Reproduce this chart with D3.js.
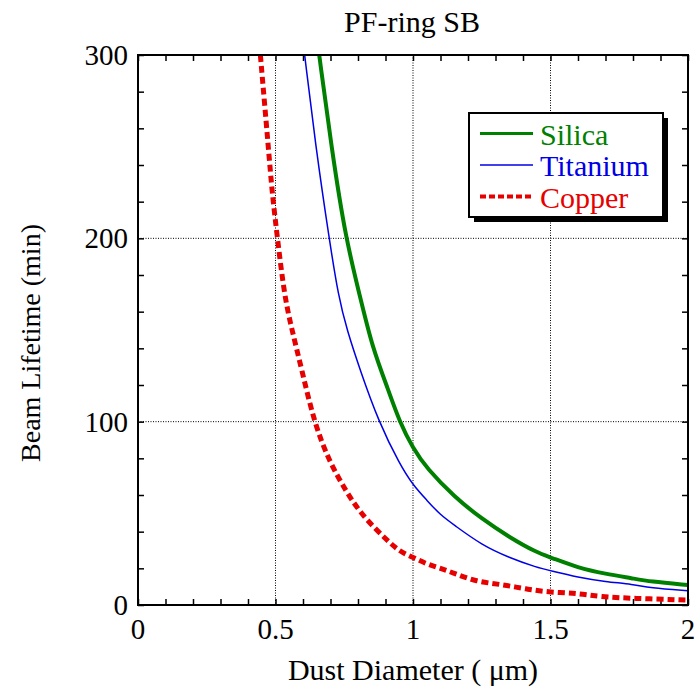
<!DOCTYPE html>
<html>
<head>
<meta charset="utf-8">
<script src="https://cdn.jsdelivr.net/npm/d3@7"></script>
<style>
  body { margin: 0; background: #fff; }
  svg text { font-family: "Liberation Serif", "Times New Roman", serif; }
</style>
</head>
<body>
<div id="vis"></div>
<script>
// Beam lifetime (min) vs dust diameter (um)
const silicaX = [0.659, 0.705, 0.755, 0.808, 0.851, 0.911, 0.951, 1.0, 1.05, 1.15, 1.25, 1.35, 1.45, 1.5, 1.6, 1.7, 1.8, 1.86, 2.0];
const silicaY = [300, 248, 200, 168, 141, 117, 100, 85.4, 74.5, 59, 47, 37, 28.6, 26, 20.3, 17, 14.5, 12.8, 10.9];

const titaniumX = [0.606, 0.648, 0.695, 0.729, 0.760, 0.808, 0.875, 0.953, 1.0, 1.05, 1.1, 1.15, 1.25, 1.35, 1.45, 1.5, 1.6, 1.7, 1.8, 1.86, 2.0];
const titaniumY = [300, 248, 200, 168, 150, 128, 100, 76.3, 65.4, 57.2, 49, 43.6, 32.7, 25.8, 20.5, 18.7, 15.1, 12.7, 11.3, 9.4, 7.8];

const copperX = [0.445, 0.475, 0.487, 0.507, 0.533, 0.560, 0.596, 0.640, 0.693, 0.760, 0.820, 0.905, 0.953, 1.0, 1.05, 1.1, 1.15, 1.23, 1.32, 1.41, 1.5, 1.6, 1.68, 1.8, 2.0];
const copperY = [300, 248, 226, 200, 168, 150, 128, 100, 79, 61, 48, 35.4, 29, 26, 22.3, 20, 17.3, 12.7, 11.3, 8.7, 6.9, 6.4, 4.5, 3.6, 2.7];

const xTicks = [0, 0.5, 1, 1.5, 2];
const xTickLabels = ["0", "0.5", "1", "1.5", "2"];
const yTicks = [0, 100, 200, 300];

const series = [
  { name: "Silica", xs: silicaX, ys: silicaY, color: "#008000", width: 4, dash: null },
  { name: "Titanium", xs: titaniumX, ys: titaniumY, color: "#0000e6", width: 1.5, dash: null },
  { name: "Copper", xs: copperX, ys: copperY, color: "#e60000", width: 5, dash: "7,4" }
];

const W = 696, H = 690;
const margin = { left: 138, right: 8, top: 55, bottom: 85 };
const width = W - margin.left - margin.right;
const height = H - margin.top - margin.bottom;

const svg = d3.select("#vis").append("svg")
  .attr("width", W)
  .attr("height", H);

const x = d3.scaleLinear().domain([0, 2]).range([margin.left, margin.left + width]);
const y = d3.scaleLinear().domain([0, 300]).range([margin.top + height, margin.top]);

// clip to plot area
svg.append("clipPath").attr("id", "plotClip")
  .append("rect")
  .attr("x", margin.left).attr("y", margin.top)
  .attr("width", width).attr("height", height);

// grid lines (major only, dotted)
const grid = svg.append("g");
xTicks.slice(1, -1).forEach(t => {
  grid.append("line")
    .attr("x1", x(t)).attr("x2", x(t))
    .attr("y1", margin.top).attr("y2", margin.top + height)
    .attr("stroke", "#000").attr("stroke-width", 1)
    .attr("stroke-dasharray", "1,1.5");
});
yTicks.slice(1, -1).forEach(t => {
  grid.append("line")
    .attr("x1", margin.left).attr("x2", margin.left + width)
    .attr("y1", y(t)).attr("y2", y(t))
    .attr("stroke", "#000").attr("stroke-width", 1)
    .attr("stroke-dasharray", "1,1.5");
});

// inward ticks on all four sides
const tickLen = 6;
const axX = d3.axisBottom(x).tickValues(d3.range(0, 2.0001, 0.1)).tickSize(tickLen).tickFormat("");
const axXTop = d3.axisTop(x).tickValues(d3.range(0, 2.0001, 0.1)).tickSize(tickLen).tickFormat("");
const axY = d3.axisLeft(y).tickValues(d3.range(0, 300.001, 20)).tickSize(tickLen).tickFormat("");
const axYRight = d3.axisRight(y).tickValues(d3.range(0, 300.001, 20)).tickSize(tickLen).tickFormat("");

svg.append("g").attr("transform", `translate(0,${margin.top + height - tickLen})`).call(axX);
svg.append("g").attr("transform", `translate(0,${margin.top + tickLen})`).call(axXTop);
svg.append("g").attr("transform", `translate(${margin.left + tickLen},0)`).call(axY);
svg.append("g").attr("transform", `translate(${margin.left + width - tickLen},0)`).call(axYRight);
svg.selectAll(".domain").remove();
svg.selectAll(".tick line").attr("stroke", "#000").attr("stroke-width", 1.5);

// curves
const line = d3.line().x(d => x(d[0])).y(d => y(d[1])).curve(d3.curveBasis);
const curves = svg.append("g").attr("clip-path", "url(#plotClip)");
series.forEach(s => {
  const pts = s.xs.map((v, i) => [v, s.ys[i]]);
  curves.append("path")
    .datum(pts)
    .attr("d", line)
    .attr("fill", "none")
    .attr("stroke", s.color)
    .attr("stroke-width", s.width)
    .attr("stroke-dasharray", s.dash);
});

// frame
svg.append("rect")
  .attr("x", margin.left).attr("y", margin.top)
  .attr("width", width).attr("height", height)
  .attr("fill", "none").attr("stroke", "#000").attr("stroke-width", 2);

// tick labels
svg.append("g").selectAll("text")
  .data(xTicks)
  .join("text")
  .attr("x", d => x(d))
  .attr("y", margin.top + height + 34)
  .attr("text-anchor", "middle")
  .attr("font-size", 29)
  .text((d, i) => xTickLabels[i]);

svg.append("g").selectAll("text")
  .data(yTicks)
  .join("text")
  .attr("x", margin.left - 10)
  .attr("y", d => y(d) + 10)
  .attr("text-anchor", "end")
  .attr("font-size", 29)
  .text(d => d);

// title and axis labels
svg.append("text")
  .attr("x", 412).attr("y", 32)
  .attr("text-anchor", "middle")
  .attr("font-size", 30)
  .text("PF-ring SB");

svg.append("text")
  .attr("x", margin.left + width / 2).attr("y", 680)
  .attr("text-anchor", "middle")
  .attr("font-size", 30)
  .text("Dust Diameter ( μm)");

svg.append("text")
  .attr("transform", `translate(40,343) rotate(-90)`)
  .attr("text-anchor", "middle")
  .attr("font-size", 28)
  .text("Beam Lifetime (min)");

// legend
const lg = svg.append("g").attr("transform", "translate(469,113)");
lg.append("rect").attr("x", 5).attr("y", 5).attr("width", 194).attr("height", 104).attr("fill", "#000");
lg.append("rect").attr("x", 0).attr("y", 0).attr("width", 194).attr("height", 104)
  .attr("fill", "#fff").attr("stroke", "#000").attr("stroke-width", 2);
series.forEach((s, i) => {
  const ly = 20.5 + i * 31.5;
  lg.append("line")
    .attr("x1", 11).attr("x2", 64)
    .attr("y1", ly).attr("y2", ly)
    .attr("stroke", s.color)
    .attr("stroke-width", s.width === 5 ? 4 : (s.width === 4 ? 3 : 1.5))
    .attr("stroke-dasharray", s.dash ? "6,3" : null);
  lg.append("text")
    .attr("x", 71).attr("y", ly + 11)
    .attr("font-size", 30)
    .attr("fill", s.color)
    .text(s.name);
});
</script>
</body>
</html>
